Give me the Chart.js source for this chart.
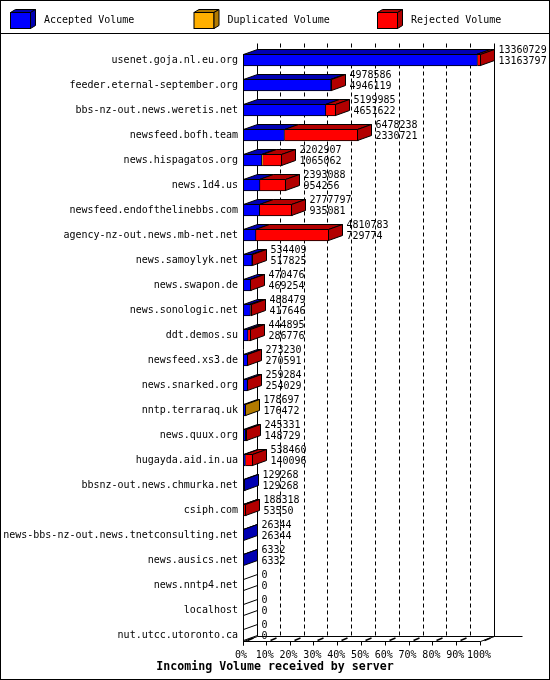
<!DOCTYPE html>
<html>
<head>
<meta charset="utf-8">
<script src="https://cdn.jsdelivr.net/npm/chart.js@4.4.0/dist/chart.umd.min.js"></script>
<style>
html,body{margin:0;padding:0;background:#fff;}
canvas{display:block;}
</style>
</head>
<body>
<canvas id="c" width="550" height="680"></canvas>
<script>
// ---- data ----
const categories = [
  'usenet.goja.nl.eu.org',
  'feeder.eternal-september.org',
  'bbs-nz-out.news.weretis.net',
  'newsfeed.bofh.team',
  'news.hispagatos.org',
  'news.1d4.us',
  'newsfeed.endofthelinebbs.com',
  'agency-nz-out.news.mb-net.net',
  'news.samoylyk.net',
  'news.swapon.de',
  'news.sonologic.net',
  'ddt.demos.su',
  'newsfeed.xs3.de',
  'news.snarked.org',
  'nntp.terraraq.uk',
  'news.quux.org',
  'hugayda.aid.in.ua',
  'bbsnz-out.news.chmurka.net',
  'csiph.com',
  'news-bbs-nz-out.news.tnetconsulting.net',
  'news.ausics.net',
  'news.nntp4.net',
  'localhost',
  'nut.utcc.utoronto.ca'
];
const totalVolume = [13360729, 4978586, 5199985, 6478238, 2202907, 2393088, 2777797, 4810783,
  534409, 470476, 488479, 444895, 273230, 259284, 178697, 245331, 538460, 129268, 188318,
  26344, 6332, 0, 0, 0];
const acceptedVolume = [13163797, 4946119, 4651622, 2330721, 1065062, 954256, 935081, 729774,
  517825, 469254, 417646, 286776, 270591, 254029, 176472, 148729, 140096, 129268, 53550,
  26344, 6332, 0, 0, 0];
const duplicatedVolume = [0, 0, 0, 0, 60000, 0, 0, 0,
  0, 0, 0, 0, 0, 0, 2225, 0, 0, 0, 0,
  0, 0, 0, 0, 0];
const rejectedVolume = [196932, 32467, 548363, 4147517, 1077845, 1438832, 1842716, 4081009,
  16584, 1222, 70833, 158119, 2639, 5255, 0, 96602, 398364, 0, 134768,
  0, 0, 0, 0, 0];
const seriesLabels = ['Accepted Volume', 'Duplicated Volume', 'Rejected Volume'];
const tickPercents = [0, 10, 20, 30, 40, 50, 60, 70, 80, 90, 100];
const titleText = 'Incoming Volume received by server';

// ---- styles ----
const FRONT = ['#0000FF', '#FFAF00', '#FF0000'];
const DARK = ['#0000B2', '#B27A00', '#B20000'];
const MONO = '"DejaVu Sans Mono", "Liberation Mono", monospace';
const DX = 14, DY = -5;
const LEGEND_X = [10, 193.5, 377];

const scaleMax = Math.max(...totalVolume);
const edge = v => Math.round(v) - 0.5;

function poly(ctx, pts, fill) {
  ctx.beginPath();
  ctx.moveTo(pts[0][0], pts[0][1]);
  for (let i = 1; i < pts.length; i++) ctx.lineTo(pts[i][0], pts[i][1]);
  ctx.closePath();
  if (fill) { ctx.fillStyle = fill; ctx.fill(); }
  ctx.stroke();
}
function seg(ctx, x1, y1, x2, y2) {
  ctx.beginPath(); ctx.moveTo(x1, y1); ctx.lineTo(x2, y2); ctx.stroke();
}

const frame3d = {
  id: 'frame3d',
  beforeDatasetsDraw(chart) {
    const ctx = chart.ctx, ca = chart.chartArea, xs = chart.scales.x;
    const bars = chart.getDatasetMeta(0).data;
    const last = bars[bars.length - 1];
    const floorF = Math.round(last.y + last.height / 2) + 0.5;
    const floorB = floorF + DY;
    const wallTop = Math.round(ca.top + DY) + 0.5;
    const left = Math.round(ca.left) + 0.5;
    const right = edge(ca.right);
    ctx.save();
    ctx.strokeStyle = '#000';
    ctx.lineWidth = 1;
    ctx.setLineDash([4, 3]);
    xs.ticks.forEach((t, i) => {
      if (i === 0 || i === xs.ticks.length - 1) return;
      const x = edge(xs.getPixelForValue(t.value)) + DX;
      seg(ctx, x, wallTop, x, floorB);
    });
    ctx.setLineDash([]);
    seg(ctx, left + DX, wallTop, left + DX, floorB);
    seg(ctx, right + DX, wallTop, right + DX, floorB);
    seg(ctx, left + DX, floorB, right + DX + 28, floorB);
    seg(ctx, left, floorF, right, floorF);
    seg(ctx, left, floorF, left + DX, floorB);
    seg(ctx, right, floorF, right + DX, floorB);
    xs.ticks.forEach((t, i) => {
      const x = i === 0 ? left : edge(xs.getPixelForValue(t.value));
      seg(ctx, x, floorF, x, floorF + 4);
      ctx.lineWidth = 1.5;
      seg(ctx, x + 4, floorF - 1, x + 10, floorF - 3.5);
      ctx.lineWidth = 1;
    });
    ctx.restore();
  },
  afterDatasetsDraw(chart) {
    const ctx = chart.ctx, ca = chart.chartArea;
    const metas = [0, 1, 2].map(d => chart.getDatasetMeta(d).data);
    const series = [acceptedVolume, duplicatedVolume, rejectedVolume];
    const left = Math.round(ca.left) + 0.5;
    ctx.save();
    ctx.strokeStyle = '#000';
    ctx.lineWidth = 1;
    categories.forEach((c, i) => {
      const b0 = metas[0][i];
      const yt = Math.round(b0.y - b0.height / 2) + 0.5;
      const yb = Math.round(b0.y + b0.height / 2) - 0.5;
      let endX = left, lastIdx = -1;
      for (let d = 0; d < 3; d++) {
        if (!series[d][i]) continue;
        const b = metas[d][i];
        const l = Math.abs(b.base - ca.left) < 0.5 ? left : edge(b.base);
        const r = Math.max(l, edge(b.x));
        poly(ctx, [[l, yt], [r, yt], [r + DX, yt + DY], [l + DX, yt + DY]], DARK[d]);
        endX = r; lastIdx = d;
      }
      poly(ctx, [[endX, yt], [endX + DX, yt + DY], [endX + DX, yb + DY], [endX, yb]],
        lastIdx >= 0 ? DARK[lastIdx] : null);
      ctx.fillStyle = '#000';
      ctx.font = '10px ' + MONO;
      ctx.textAlign = 'left';
      ctx.textBaseline = 'middle';
      ctx.fillText(String(totalVolume[i]), endX + DX + 4, b0.y - 10);
      ctx.fillText(String(acceptedVolume[i]), endX + DX + 4, b0.y + 1);
    });
    const first = metas[0][0], last = metas[0][metas[0].length - 1];
    seg(ctx, left, Math.round(first.y - first.height / 2), left, Math.round(last.y + last.height / 2) + 4.5);
    ctx.restore();
  },
  afterDraw(chart) {
    const ctx = chart.ctx;
    ctx.save();
    ctx.strokeStyle = '#000';
    ctx.lineWidth = 1;
    ctx.strokeRect(0.5, 0.5, chart.width - 1, chart.height - 1);
    seg(ctx, 0, 33.5, chart.width, 33.5);
    chart.data.datasets.forEach((ds, d) => {
      const x = LEGEND_X[d] + 0.5, y = 12.5, w = 20, h = 16, dx = 5, dy = -3;
      ctx.fillStyle = FRONT[d];
      ctx.fillRect(x, y, w, h);
      ctx.strokeRect(x, y, w, h);
      poly(ctx, [[x, y], [x + w, y], [x + w + dx, y + dy], [x + dx, y + dy]], DARK[d]);
      poly(ctx, [[x + w, y], [x + w + dx, y + dy], [x + w + dx, y + h + dy], [x + w, y + h]], DARK[d]);
      ctx.fillStyle = '#000';
      ctx.font = '10px ' + MONO;
      ctx.textAlign = 'left';
      ctx.textBaseline = 'middle';
      ctx.fillText(ds.label, LEGEND_X[d] + 34, 20.5);
    });
    ctx.restore();
  }
};

const ds = (i, values) => ({
  label: seriesLabels[i],
  data: values,
  backgroundColor: FRONT[i],
  borderColor: '#000',
  borderWidth: 1,
  borderSkipped: 'start',
  barThickness: 12
});

new Chart(document.getElementById('c'), {
  type: 'bar',
  data: {
    labels: categories,
    datasets: [ds(0, acceptedVolume), ds(1, duplicatedVolume), ds(2, rejectedVolume)]
  },
  options: {
    indexAxis: 'y',
    responsive: false,
    animation: false,
    devicePixelRatio: 1,
    layout: { padding: { top: 47.5, left: 0, right: 0, bottom: 0 } },
    plugins: {
      legend: { display: false },
      tooltip: { enabled: false },
      title: {
        display: true,
        position: 'bottom',
        text: titleText,
        color: '#000',
        font: { family: MONO, size: 11.6, weight: 'bold' },
        padding: { top: 0, bottom: 6.5 }
      }
    },
    scales: {
      x: {
        stacked: true,
        min: 0,
        max: scaleMax,
        grid: { display: false, drawTicks: false, tickLength: 0 },
        border: { display: false },
        afterBuildTicks(s) { s.ticks = tickPercents.map(p => ({ value: scaleMax * p / 100 })); },
        afterFit(s) { s.height = 12.08; },
        ticks: {
          autoSkip: false,
          maxRotation: 0,
          padding: 1.5,
          labelOffset: -2,
          color: '#000',
          font: { family: MONO, size: 10 },
          callback: (v, i) => tickPercents[i] + '%'
        }
      },
      y: {
        stacked: true,
        grid: { display: false, drawTicks: false, tickLength: 0 },
        border: { display: false },
        afterFit(s) { s.width = 243; },
        ticks: {
          autoSkip: false,
          padding: 5,
          color: '#000',
          font: { family: MONO, size: 10 }
        }
      },
      y2: {
        position: 'right',
        grid: { display: false, drawTicks: false, tickLength: 0 },
        border: { display: false },
        ticks: { display: false },
        afterFit(s) { s.width = 69; }
      }
    }
  },
  plugins: [frame3d]
});
</script>
</body>
</html>
